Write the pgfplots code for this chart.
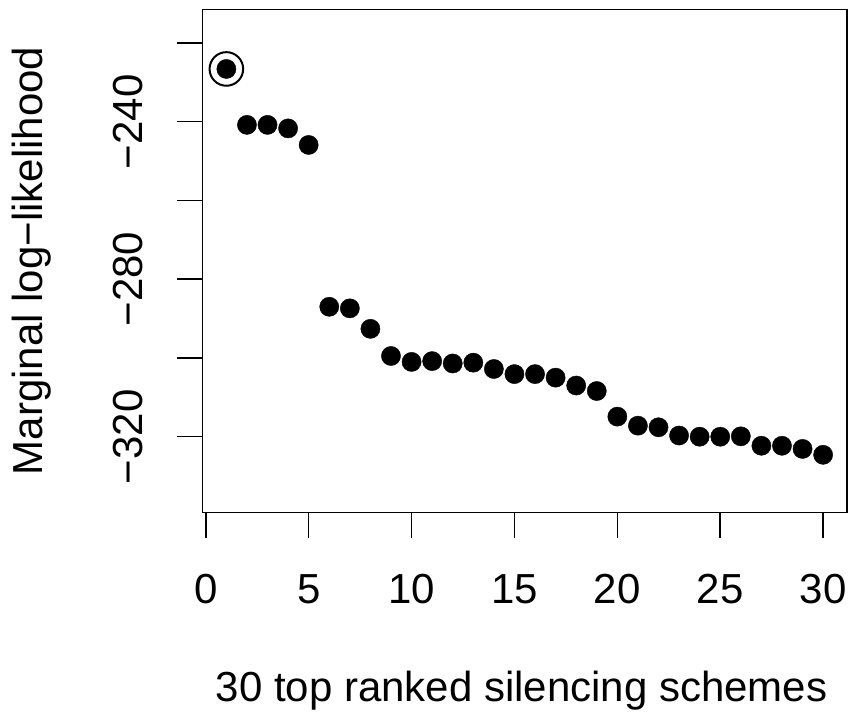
\documentclass[border=0pt]{standalone}
\usepackage{fontspec}
\setmainfont{Liberation Sans}
\usepackage{pgfplots}
\pgfplotsset{compat=1.18}
\begin{document}
\begin{tikzpicture}
\useasboundingbox (-202.5bp,-199.5bp) rectangle (646.5bp,512.5bp);
\begin{axis}[
  at={(0,0)}, anchor=south west,
  scale only axis,
  width=644.5bp, height=503bp,
  xmin=-0.16, xmax=31.16,
  ymin=-339.25, ymax=-211.5,
  axis line style={line width=1.5bp},
  tick style={line width=1.5bp, black},
  tick align=outside,
  major tick length=25.5bp,
  xtick={0,5,...,30},
  xticklabels={0,5,10,15,20,25,30},
  ytick={-320,-300,-280,-260,-240,-220},
  yticklabels={−320,{},−280,{},−240,{}},
  xtick pos=bottom, ytick pos=left,
  tick label style={font=\fontsize{42bp}{50bp}\selectfont, inner sep=0pt},
  xticklabel style={anchor=base},
  yticklabel style={rotate=90, anchor=base},
  xticklabel shift=65bp,
  yticklabel shift=34bp,
  label style={font=\fontsize{42bp}{50bp}\selectfont, inner sep=0pt},
  xlabel={30 top ranked silencing schemes},
  xlabel style={at={(axis description cs:0.495,-0.37614)}, anchor=base},
  ylabel={Marginal log−likelihood},
  ylabel style={at={(axis description cs:-0.24748,0.5)}, anchor=base, rotate=0},
  clip=false,
]
\addplot[only marks, mark=*, mark size=9.6bp, mark options={fill=black, draw=black, line width=0.4bp}]
coordinates {
(1,-226.6) (2,-240.8) (3,-240.8) (4,-241.7) (5,-245.9)
(6,-287.0) (7,-287.4) (8,-292.6) (9,-299.5) (10,-301.0)
(11,-300.8) (12,-301.4) (13,-301.2) (14,-302.8) (15,-304.1)
(16,-304.1) (17,-305.0) (18,-307.0) (19,-308.4) (20,-314.9)
(21,-317.2) (22,-317.6) (23,-319.7) (24,-320.0) (25,-320.0)
(26,-319.9) (27,-322.3) (28,-322.3) (29,-323.1) (30,-324.6)
};
\addplot[only marks, mark=o, mark size=16.8bp, mark options={draw=black, line width=2bp, fill=none}]
coordinates {(1,-226.6)};
\end{axis}
\end{tikzpicture}
\end{document}
